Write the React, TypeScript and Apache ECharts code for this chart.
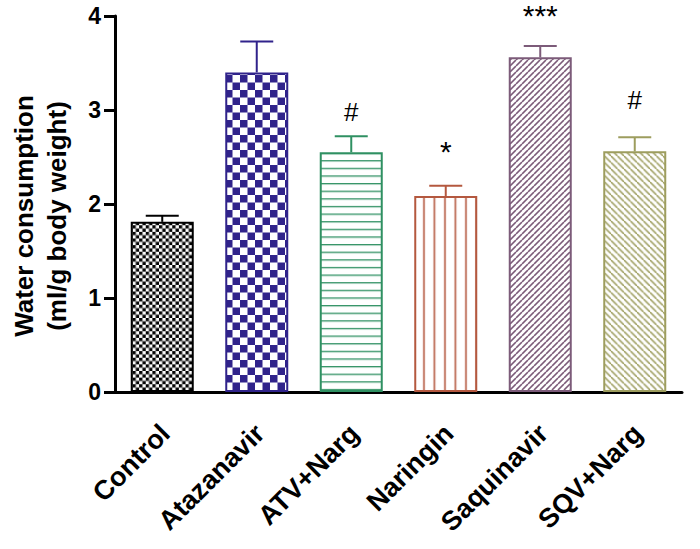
import React, { useEffect, useRef } from "react";
import * as echarts from "echarts";

const categories = ["Control", "Atazanavir", "ATV+Narg", "Naringin", "Saquinavir", "SQV+Narg"];
const means = [1.81, 3.40, 2.55, 2.085, 3.56, 2.56];
const sems = [0.065, 0.33, 0.17, 0.11, 0.12, 0.15];
const marks = ["", "", "#", "*", "***", "#"];
const markLevels = [0, 0, 2.98, 2.62, 4.07, 3.11];
const yTicks = [0, 1, 2, 3, 4];

const colors = ["#000000", "#30238b", "#2f9062", "#b4583f", "#7c5b79", "#9d9d5e"];
const FONT = "'Liberation Sans', Arial, sans-serif";

type Draw = (ctx: CanvasRenderingContext2D, s: number) => void;
function tile(w: number, h: number, draw: Draw) {
  const s = 8;
  const c = document.createElement("canvas");
  c.width = Math.round(w * s);
  c.height = Math.round(h * s);
  const ctx = c.getContext("2d") as CanvasRenderingContext2D;
  ctx.fillStyle = "#ffffff";
  ctx.fillRect(0, 0, c.width, c.height);
  draw(ctx, s);
  return { image: c, repeat: "repeat", imageWidth: c.width / s, imageHeight: c.height / s };
}

function checker(cell: number, color: string) {
  return tile(cell * 2, cell * 2, (ctx, s) => {
    ctx.fillStyle = color;
    ctx.fillRect(0, 0, cell * s, cell * s);
    ctx.fillRect(cell * s, cell * s, cell * s, cell * s);
  });
}
function hLines(p: number, off: number, lw: number, color: string) {
  return tile(10, p, (ctx, s) => {
    ctx.fillStyle = color;
    ctx.fillRect(0, (off - lw / 2) * s, 10 * s, lw * s);
  });
}
function vLines(p: number, off: number, lw: number, color: string) {
  return tile(p, 10, (ctx, s) => {
    ctx.fillStyle = color;
    ctx.fillRect((off - lw / 2) * s, 0, lw * s, 10 * s);
  });
}
function diag(p: number, lw: number, color: string, forward: boolean) {
  return tile(p, p, (ctx, s) => {
    ctx.strokeStyle = color;
    ctx.lineWidth = lw * s;
    const P = p * s;
    for (let k = -1; k <= 1; k++) {
      ctx.beginPath();
      if (forward) {
        ctx.moveTo(k * P, P);
        ctx.lineTo(k * P + P, 0);
      } else {
        ctx.moveTo(k * P, 0);
        ctx.lineTo(k * P + P, P);
      }
      ctx.stroke();
    }
  });
}

export default function App() {
  const ref = useRef<HTMLDivElement>(null);
  useEffect(() => {
    if (!ref.current) return;
    const chart = echarts.init(ref.current, null, { renderer: "svg" });
    const patterns = [
      checker(3.3, colors[0]),
      checker(7.5, colors[1]),
      hLines(7.65, 0.6, 1.6, colors[2]),
      vLines(10.5, 4, 1.6, colors[3]),
      diag(6, 1.6, colors[4], true),
      diag(6.5, 1.5, colors[5], false),
    ];
    const option: any = {
      animation: false,
      backgroundColor: "#ffffff",
      grid: { left: 115, right: 18, top: 16, bottom: 157, containLabel: false },
      xAxis: {
        type: "category",
        data: categories,
        axisLine: { lineStyle: { color: "#000", width: 3 } },
        axisTick: { alignWithLabel: true, length: 10, lineStyle: { color: "#000", width: 3 } },
        axisLabel: { show: false },
        splitLine: { show: false },
      },
      yAxis: {
        type: "value",
        min: yTicks[0],
        max: yTicks[yTicks.length - 1],
        interval: 1,
        axisLine: { show: true, lineStyle: { color: "#000", width: 3 } },
        axisTick: { show: true, length: 11, lineStyle: { color: "#000", width: 3 } },
        axisLabel: { margin: 14, fontSize: 23, fontWeight: "bold", color: "#000", fontFamily: FONT },
        splitLine: { show: false },
      },
      graphic: [
        {
          type: "text",
          x: 40,
          y: 216,
          rotation: Math.PI / 2,
          style: {
            text: "Water consumption\n(ml/g body weight)",
            fontSize: 26,
            fontWeight: "bold",
            fontFamily: FONT,
            lineHeight: 33,
            fill: "#000",
            align: "center",
            verticalAlign: "middle",
          },
        },
      ],
      series: [
        {
          type: "bar",
          barWidth: 63,
          data: means.map((v, i) => ({
            value: v,
            itemStyle: { color: patterns[i], borderColor: colors[i], borderWidth: 2 },
          })),
          z: 2,
        },
        {
          type: "custom",
          z: 3,
          clip: false,
          data: means.map((v, i) => [i, v, v + sems[i]]),
          renderItem: (params: any, api: any) => {
            const i = api.value(0);
            const b = api.coord([i, api.value(1)]);
            const t = api.coord([i, api.value(2)]);
            const st = { stroke: colors[i], lineWidth: 2 };
            return {
              type: "group",
              children: [
                { type: "line", shape: { x1: b[0], y1: b[1], x2: t[0], y2: t[1] }, style: st },
                { type: "line", shape: { x1: t[0] - 16.5, y1: t[1], x2: t[0] + 16.5, y2: t[1] }, style: st },
              ],
            };
          },
        },
        {
          type: "custom",
          z: 4,
          clip: false,
          data: marks.map((m, i) => [i, markLevels[i]]).filter((d, i) => marks[i] !== ""),
          renderItem: (params: any, api: any) => {
            const i = api.value(0);
            const p = api.coord([i, api.value(1)]);
            const txt = marks[i];
            const star = txt.indexOf("*") >= 0;
            return {
              type: "text",
              x: p[0],
              y: p[1] + (star ? 6 : 0),
              style: {
                text: txt,
                fontSize: star ? 30 : 26,
                fontFamily: FONT,
                fill: "#000",
                align: "center",
                verticalAlign: "middle",
              },
            };
          },
        },
        {
          type: "custom",
          z: 4,
          clip: false,
          data: categories.map((c, i) => [i, 0]),
          renderItem: (params: any, api: any) => {
            const i = api.value(0);
            const p = api.coord([i, 0]);
            return {
              type: "text",
              x: p[0] + 3,
              y: p[1] + 37,
              rotation: Math.PI / 4,
              style: {
                text: categories[i],
                fontSize: 27,
                fontWeight: "bold",
                fontFamily: FONT,
                fill: "#000",
                align: "right",
                verticalAlign: "middle",
              },
            };
          },
        },
      ],
    };
    chart.setOption(option);
    return () => chart.dispose();
  }, []);
  return (
    <div
      ref={ref}
      style={{ position: "fixed", left: 0, top: 0, width: 700, height: 549, background: "#fff" }}
    />
  );
}
